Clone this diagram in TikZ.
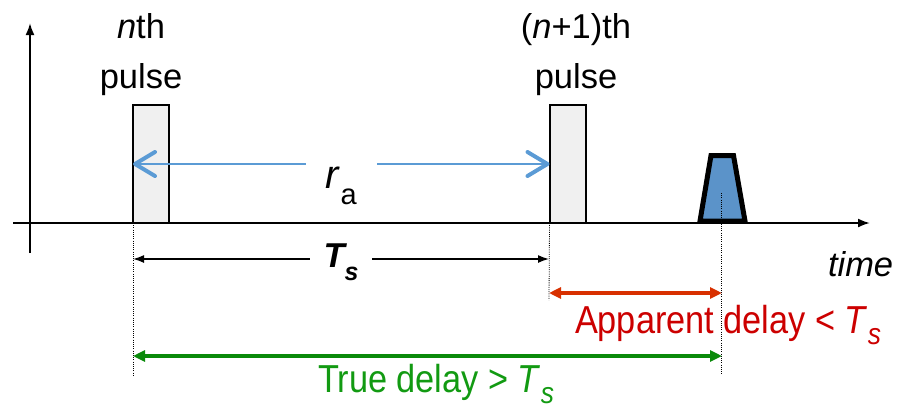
\documentclass[tikz,border=0pt]{standalone}
\usepackage{fontspec}
\setmainfont{Liberation Sans}
\newfontfamily\narrowsans[FakeStretch=0.88]{Liberation Sans}
\usepackage{xcolor}
\usepackage{tikz}
\usetikzlibrary{arrows.meta}
\definecolor{pulsegray}{HTML}{F0F0F0}
\definecolor{rablue}{HTML}{5B9BD5}
\definecolor{echoblue}{HTML}{5B93C9}
\definecolor{appred}{HTML}{D83000}
\definecolor{textred}{HTML}{CC0000}
\definecolor{truegreen}{HTML}{0A8A0A}
\definecolor{textgreen}{HTML}{129A12}
\newcommand{\lowsub}[3]{\raisebox{-#2}{\fontsize{#1}{#1}\selectfont #3}}

\begin{document}
\begin{tikzpicture}[x=1pt, y=-1pt,
  every node/.style={inner sep=0pt, outer sep=0pt},
  lbl/.style={font=\fontsize{34.5}{50}\selectfont, align=center},
  colorlbl/.style={font=\narrowsans\fontsize{39}{45}\selectfont},
  axis/.style={line width=2pt, -{Latex[length=12pt, width=9pt]}},
  pulse/.style={draw, line width=2pt, fill=pulsegray, minimum width=36pt, minimum height=118pt},
  echo/.style={draw, line width=5pt, fill=echoblue, line join=miter},
  guide/.style={line width=0.8pt, dash pattern=on 1pt off 1.2pt},
  raarrow/.style={draw=rablue, line width=2pt,
    {Straight Barb[length=20pt, width=24pt, line width=4pt, round]}-{Straight Barb[length=20pt, width=24pt, line width=4pt, round]}},
  tsarrow/.style={line width=1.5pt, {Latex[length=11pt, width=8pt]}-{Latex[length=11pt, width=8pt]}},
  delayarrow/.style={line width=3.5pt, {Triangle[length=12pt, width=11pt]}-{Triangle[length=12pt, width=11pt]}}
]
\useasboundingbox (0,0) rectangle (897,408);

\coordinate (xstart) at (13,223);
\coordinate (xend) at (870,223);
\coordinate (ystart) at (30,253);
\coordinate (yend) at (30,23);
\draw[axis] (xstart) -- (xend);
\draw[axis] (ystart) -- (yend);

\node[pulse] (pulseA) at (151,164) {};
\node[pulse] (pulseB) at (567.5,164) {};
\draw[echo] (700,221) -- (711,155.5) -- (733.5,155.5) -- (745,221) -- cycle;
\coordinate (echo) at (721,193);

\node[lbl, anchor=north] (labelA) at (141,13) {\textit{n}th\\pulse};
\node[lbl, anchor=north] (labelB) at (576,13) {(\textit{n}+1)th\\pulse};
\node[lbl, anchor=base west] (timelbl) at (828,276) {\textit{time}};

\coordinate (dA) at (133,375);
\coordinate (dB) at (549,300);
\coordinate (dE) at (721,375);
\draw[guide] (pulseA.south west) -- (dA);
\draw[guide] (pulseB.south west) -- (dB);
\draw[guide] (echo) -- (dE);

\draw[raarrow] (pulseA.west) -- node[lbl, fill=white, anchor=base, yshift=-24pt, inner xsep=20pt, inner ysep=8pt] (ra)
  {\fontsize{40}{40}\selectfont\textit{r}\lowsub{29pt}{16pt}{a}} (pulseB.west);

\coordinate (tsA) at (133,259);
\coordinate (tsB) at (549,259);
\draw[tsarrow] (tsA) -- node[lbl, fill=white, anchor=base, yshift=-8pt, inner xsep=14pt, inner ysep=3pt] (tslbl)
  {\bfseries\itshape T\lowsub{25pt}{13pt}{s}} (tsB);

\coordinate (appA) at (549,293);
\coordinate (appB) at (722,293);
\draw[delayarrow, draw=appred, fill=appred] (appA) -- (appB);
\node[colorlbl, text=textred, anchor=base west] (apptext) at (575,333)
  {Apparent delay < \textit{T}\lowsub{30pt}{11pt}{\textit{s}}};

\coordinate (trueA) at (133,356);
\coordinate (trueB) at (722,356);
\draw[delayarrow, draw=truegreen, fill=truegreen] (trueA) -- (trueB);
\node[colorlbl, text=textgreen, anchor=base west] (truetext) at (318,392)
  {True delay > \textit{T}\lowsub{30pt}{11pt}{\textit{s}}};
\end{tikzpicture}
\end{document}
